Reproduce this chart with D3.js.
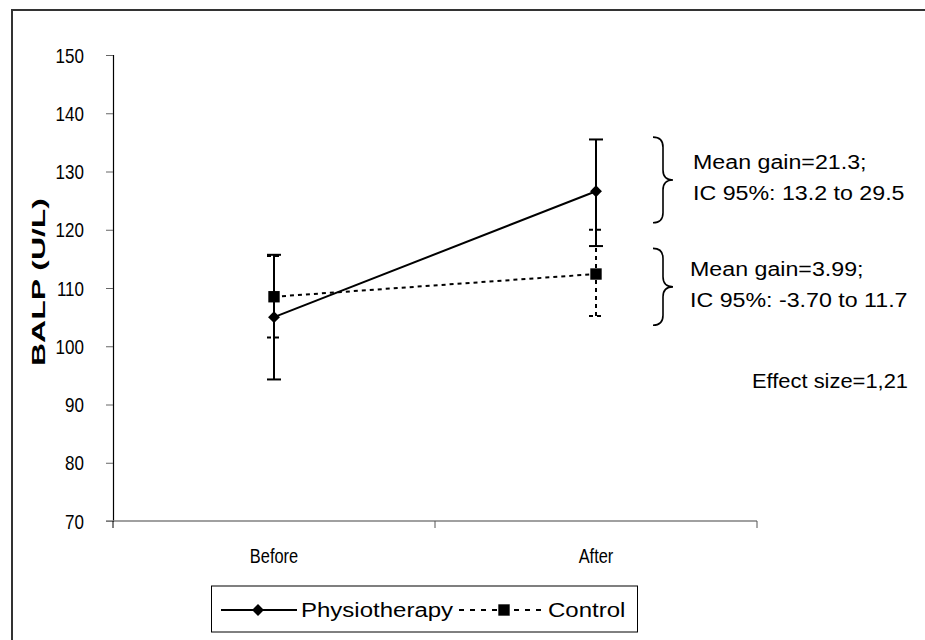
<!DOCTYPE html>
<html>
<head>
<meta charset="utf-8">
<script src="https://cdn.jsdelivr.net/npm/d3@7/dist/d3.min.js"></script>
<style>
  html, body { margin: 0; padding: 0; background: #fff; }
  svg { display: block; font-family: "Liberation Sans", Arial, sans-serif; }
</style>
</head>
<body>
<svg id="chart" width="925" height="640"></svg>
<script>
// BALP before/after, mean with 95% CI error bars
const categories = ["Before", "After"];
const seriesNames = ["Physiotherapy", "Control"];
const physioMean = [105.0, 126.6];
const physioLow = [94.3, 117.2];
const physioHigh = [115.7, 135.5];
const controlMean = [108.5, 112.4];
const controlLow = [101.5, 105.2];
const controlHigh = [115.5, 120.0];
const yTicks = [70, 80, 90, 100, 110, 120, 130, 140, 150];
const yLabel = "BALP (U/L)";
const gainNotes = [
  { lines: ["Mean gain=21.3;", "IC 95%: 13.2 to 29.5"], span: [121.2, 135.9] },
  { lines: ["Mean gain=3.99;", "IC 95%: -3.70 to 11.7"], span: [103.6, 116.8] }
];
const effectNote = "Effect size=1,21";

const svg = d3.select("#chart");

// scale a text's natural width horizontally by a factor
function stretch(sel, k) {
  sel.each(function () {
    const w = this.getComputedTextLength();
    d3.select(this).attr("textLength", w * k).attr("lengthAdjust", "spacingAndGlyphs");
  });
}

// outer frame
svg.append("rect")
  .attr("x", 12).attr("y", 10).attr("width", 940).attr("height", 660)
  .attr("fill", "none").attr("stroke", "#333").attr("stroke-width", 2);

const x = d3.scaleBand().domain(categories).range([113, 757]);
const y = d3.scaleLinear().domain([70, 150]).range([521, 55]);
const cx = c => x(c) + x.bandwidth() / 2;

// y axis
const yAxis = svg.append("g").attr("transform", "translate(113,0)")
  .call(d3.axisLeft(y).tickValues(yTicks).tickSize(7).tickPadding(22));
yAxis.select(".domain").attr("stroke", "#000").attr("stroke-width", 1.2);
yAxis.selectAll(".tick line").attr("stroke", "#666");
yAxis.selectAll(".tick text")
  .attr("font-size", 21).attr("fill", "#000").attr("dy", "0.34em")
  .attr("font-family", "Liberation Sans, Arial, sans-serif")
  .call(stretch, 0.81);

// x axis: ticks between categories
svg.append("line")
  .attr("x1", 106).attr("x2", 757).attr("y1", 521).attr("y2", 521)
  .attr("stroke", "#808080").attr("stroke-width", 1.5);
const bounds = [x.range()[0], ...categories.map(c => x(c) + x.bandwidth())];
svg.selectAll(".xtick").data(bounds).join("line")
  .attr("class", "xtick")
  .attr("x1", d => d).attr("x2", d => d)
  .attr("y1", 521).attr("y2", 528)
  .attr("stroke", d => d === bounds[0] ? "#000" : "#555");
svg.selectAll(".xlab").data(categories).join("text")
  .attr("class", "xlab")
  .attr("x", d => cx(d)).attr("y", 563)
  .attr("text-anchor", "middle").attr("font-size", 20)
  .text(d => d)
  .call(stretch, 0.82);

// y axis title
svg.append("text")
  .attr("transform", `translate(45,${(y(70) + y(150)) / 2 - 6}) rotate(-90)`)
  .attr("text-anchor", "middle").attr("font-size", 19).attr("font-weight", "bold")
  .attr("textLength", 168).attr("lengthAdjust", "spacingAndGlyphs")
  .text(yLabel);

const series = [
  { name: seriesNames[0], mean: physioMean, low: physioLow, high: physioHigh, dash: null, marker: "diamond" },
  { name: seriesNames[1], mean: controlMean, low: controlLow, high: controlHigh, dash: "4,4", marker: "square" }
];

const line = d3.line().x((d, i) => cx(categories[i])).y(d => y(d));
const diamond = d3.symbol().type(d3.symbolDiamond2).size(90);
const square = d3.symbol().type(d3.symbolSquare2).size(165);

// control first so physiotherapy sits on top
[series[1], series[0]].forEach(s => {
  const g = svg.append("g");
  const w = 2;
  categories.forEach((c, i) => {
    const px = cx(c);
    g.append("line").attr("x1", px).attr("x2", px)
      .attr("y1", y(s.low[i])).attr("y2", y(s.high[i]))
      .attr("stroke", "#000").attr("stroke-width", w)
      .attr("stroke-dasharray", s.dash);
    [s.low[i], s.high[i]].forEach(v => {
      g.append("line").attr("x1", px - 7).attr("x2", px + 7)
        .attr("y1", y(v)).attr("y2", y(v))
        .attr("stroke", "#000").attr("stroke-width", w)
        .attr("stroke-dasharray", s.dash);
    });
  });
  g.append("path").datum(s.mean).attr("d", line)
    .attr("fill", "none").attr("stroke", "#000").attr("stroke-width", w)
    .attr("stroke-dasharray", s.dash);
  g.selectAll("path.m").data(s.mean).join("path").attr("class", "m")
    .attr("transform", (d, i) => `translate(${cx(categories[i])},${y(d)})`)
    .attr("d", s.marker === "diamond" ? diamond : square)
    .attr("fill", "#000");
});

// braces with gain notes
function bracePath(x0, y0, y1) {
  const ym = (y0 + y1) / 2, xm = x0 + 10, xt = x0 + 20, r = 10;
  return `M${x0},${y0} Q${xm},${y0} ${xm},${y0 + r} L${xm},${ym - r} Q${xm},${ym} ${xt},${ym}` +
         ` Q${xm},${ym} ${xm},${ym + r} L${xm},${y1 - r} Q${xm},${y1} ${x0},${y1}`;
}
gainNotes.forEach((n, k) => {
  const y0 = y(n.span[1]), y1 = y(n.span[0]);
  svg.append("path").attr("d", bracePath(653, y0, y1))
    .attr("fill", "none").attr("stroke", "#000").attr("stroke-width", 1.6);
  const tx = k === 0 ? 693 : 690;
  const ym = (y0 + y1) / 2;
  n.lines.forEach((t, j) => {
    svg.append("text").attr("x", tx).attr("y", ym - 11 + j * 31)
      .attr("font-size", 20).text(t)
      .call(stretch, 1.16);
  });
});
svg.append("text").attr("x", 752).attr("y", 388).attr("font-size", 20)
  .attr("textLength", 156).attr("lengthAdjust", "spacingAndGlyphs")
  .text(effectNote);

// legend
const lg = svg.append("g");
lg.append("rect").attr("x", 211.5).attr("y", 586).attr("width", 426).attr("height", 46)
  .attr("fill", "#fff").attr("stroke", "#000").attr("stroke-width", 1);
lg.append("line").attr("x1", 221).attr("x2", 297).attr("y1", 610).attr("y2", 610)
  .attr("stroke", "#000").attr("stroke-width", 2);
lg.append("path").attr("transform", "translate(258,610)").attr("d", diamond).attr("fill", "#000");
lg.append("text").attr("x", 301).attr("y", 617).attr("font-size", 20).text(seriesNames[0])
  .call(stretch, 1.2);
lg.append("line").attr("x1", 459).attr("x2", 545).attr("y1", 610).attr("y2", 610)
  .attr("stroke", "#000").attr("stroke-width", 2).attr("stroke-dasharray", "5,6");
lg.append("path").attr("transform", "translate(504,610)").attr("d", square).attr("fill", "#000");
lg.append("text").attr("x", 548).attr("y", 617).attr("font-size", 20).text(seriesNames[1])
  .call(stretch, 1.2);
</script>
</body>
</html>
